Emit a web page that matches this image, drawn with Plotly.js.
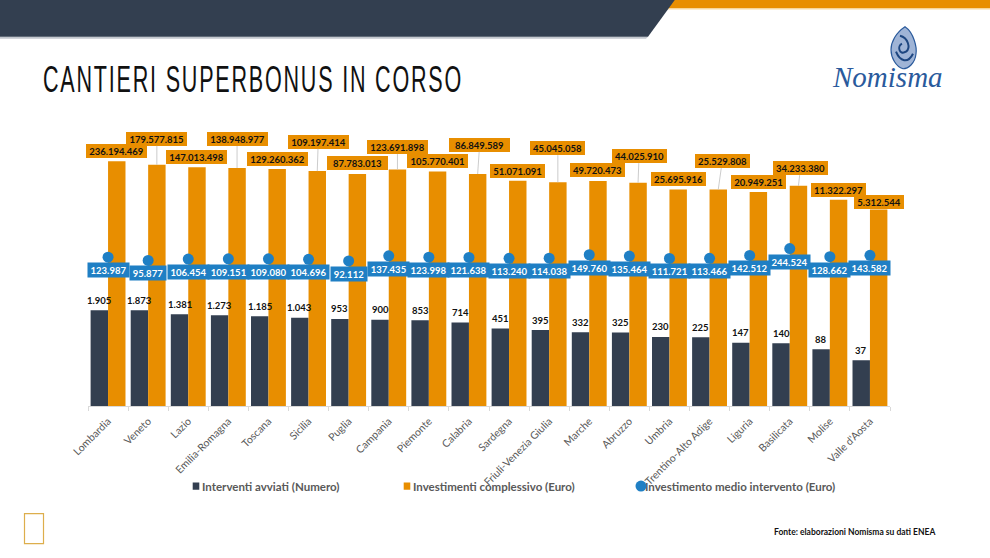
<!DOCTYPE html>
<html><head><meta charset="utf-8">
<script src="https://cdn.plot.ly/plotly-3.0.1.min.js"></script>
<style>html,body{margin:0;padding:0;background:#fff}#c{width:990px;height:558px}</style>
</head><body><div id="c"></div>
<script>
const regioni = ["Lombardia","Veneto","Lazio","Emilia-Romagna","Toscana","Sicilia","Puglia","Campania","Piemonte","Calabria","Sardegna","Friuli-Venezia Giulia","Marche","Abruzzo","Umbria","Trentino-Alto Adige","Liguria","Basilicata","Molise","Valle d'Aosta"];
const interventi = [1905,1873,1381,1273,1185,1043,953,900,853,714,451,395,332,325,230,225,147,140,88,37];
const investimenti = [236194469,179577815,147013498,138948977,129260362,109197414,87783013,123691898,105770401,86849589,51071091,45045058,49720473,44025910,25695916,25529808,20949251,34233380,11322297,5312544];
const medio = [123987,95877,106454,109151,109080,104696,92112,137435,123998,121638,113240,114038,149760,135464,111721,113466,142512,244524,128662,143582];
// pixel offsets of the orange labels from their bar tops
const labelDx = [0,0,0,0,0,1,0,0,0,2,0,0,0,1,0,4,0,2,0,0];
const labelDy = [-10.5,-26,-10.5,-29,-10.4,-29.3,-10.4,-22.4,-10.7,-29.2,-10.2,-34.2,-10.6,-26.5,-10.6,-28.4,-10.5,-17.7,-10.3,-7.3];
const leader = [0,1,0,1,0,1,0,1,0,1,0,1,0,1,0,1,0,1,0,0];

const NAVY="#333F50", ORANGE="#E88E00", BLUE="#1F7FC4", GREY="#595959", LOGO="#2A5A9C";
const FONT="Lato, 'Open Sans', sans-serif";
const it = n => n.toLocaleString("de-DE");
const PW=802, PH=262.8, L=88, T=143.2;
const px = x => (x-L)/PW, py = y => 1-(y-T)/PH;
const off = 0.217;

const barTrace=(name,y,color,leg)=>({type:"bar",name,x:regioni,y,marker:{color},legend:leg,hoverinfo:"x+y"});
const data=[
 barTrace("Interventi avviati (Numero)",interventi,NAVY,"legend"),
 barTrace("Investimenti complessivo (Euro)",investimenti,ORANGE,"legend2"),
 {type:"scatter",mode:"markers",name:"Investimento medio intervento (Euro)",x:regioni,y:medio,marker:{color:BLUE,size:11},legend:"legend3",cliponaxis:false}
];
const annotations=[];
regioni.forEach((r,i)=>{
 annotations.push({xref:"x",yref:"y",x:i+off,y:Math.log10(investimenti[i]),text:it(investimenti[i]),showarrow:true,arrowhead:0,arrowwidth:0.8,standoff:0,
   arrowcolor:leader[i]?"#BFBFBF":"rgba(0,0,0,0)",ax:labelDx[i],ay:labelDy[i],bgcolor:ORANGE,borderpad:2,borderwidth:0,
   width:i<10?57:(i<19?51:46),height:10,font:{family:FONT,size:9.5,color:"#111",weight:700}});
});
regioni.forEach((r,i)=>{
 annotations.push({xref:"x",yref:"y",x:i,y:Math.log10(medio[i]),text:it(medio[i]),showarrow:false,yshift:-13,xanchor:"center",yanchor:"middle",
   bgcolor:BLUE,borderpad:2,width:medio[i]<100000?32:37,height:10,font:{family:FONT,size:9.5,color:"#fff",weight:700}});
 annotations.push({xref:"x",yref:"y",x:i-off,y:Math.log10(interventi[i]),text:it(interventi[i]),showarrow:false,yshift:10,xanchor:"center",yanchor:"middle",
   font:{family:FONT,size:9.5,color:"#111",weight:700}});
});
annotations.push({xref:"paper",yref:"paper",x:px(937),y:py(532),xanchor:"right",yanchor:"middle",showarrow:false,text:"Fonte: elaborazioni Nomisma su dati ENEA",font:{family:FONT,size:8.5,color:"#111",weight:700}});
annotations.push({xref:"paper",yref:"paper",x:px(887),y:py(77),xanchor:"center",yanchor:"middle",showarrow:false,text:"<i>Nomisma</i>",font:{family:"'Liberation Serif',serif",size:29,color:LOGO}});

const pathShape=(pts,o)=>Object.assign({type:"path",xref:"paper",yref:"paper",path:pts},o);
const P=(x,y)=>`${px(x)} ${py(y)}`;
const rect=(x0,y0,x1,y1,o)=>Object.assign({type:"rect",xref:"paper",yref:"paper",x0:px(x0),x1:px(x1),y0:py(y0),y1:py(y1),layer:"below"},o);
const shapes=[
 rect(640,8.5,990,10,{fillcolor:"#FBE6BE",line:{width:0}}),
 rect(640,0,990,8.5,{fillcolor:ORANGE,line:{width:0}}),
 pathShape(`M ${P(0,37)} L ${P(648,37)} L ${P(646,39)} L ${P(0,39)} Z`,{layer:"below",fillcolor:"#C3C7CE",line:{width:0}}),
 pathShape(`M ${P(0,0)} L ${P(675,0)} L ${P(648,37)} L ${P(0,37)} Z`,{layer:"below",fillcolor:NAVY,line:{width:0}}),
 rect(24.5,513.5,43.5,543.5,{fillcolor:"rgba(0,0,0,0)",line:{color:"#DDAE4C",width:1.2}}),
 pathShape(`M ${P(905,27)} C ${P(914,33)} ${P(917,48)} ${P(916,54)} C ${P(915,64)} ${P(908,69)} ${P(903,69)} C ${P(896,67)} ${P(891,58)} ${P(891,50)} C ${P(891,42)} ${P(896,33)} ${P(905,27)} Z`,{fillcolor:"#9FB4D6",line:{color:LOGO,width:1.2}}),
 pathShape(`M ${P(900,36)} C ${P(908,38)} ${P(911,48)} ${P(906,52)} C ${P(899,56)} ${P(897,46)} ${P(902,44)} M ${P(896,52)} C ${P(900,62)} ${P(908,64)} ${P(913,54)}`,{line:{color:"#1D4680",width:2}})
];
const legendCommon={orientation:"h",yanchor:"middle",xanchor:"left",xref:"paper",yref:"paper",bgcolor:"rgba(0,0,0,0)",borderwidth:0,itemclick:false,itemwidth:30,
  font:{family:FONT,size:11.5,color:GREY,weight:700}};
const layout={
 width:990,height:558,autosize:false,paper_bgcolor:"#fff",plot_bgcolor:"#fff",
 margin:{l:L,r:100,t:T,b:152,pad:0},
 barmode:"group",bargap:0.13,bargroupgap:0,
 title:{text:"CANTIERI SUPERBONUS IN CORSO",xref:"container",yref:"container",x:43/990,xanchor:"left",y:1-79/558,yanchor:"middle",pad:{t:0,b:0,l:0,r:0},
   font:{family:"'Liberation Sans Narrow','Liberation Sans',sans-serif",size:36,color:"#111"}},
 xaxis:{type:"category",range:[-0.5,19.5],tickangle:-45,tickson:"boundaries",ticks:"outside",ticklen:4,ticklabelstandoff:4,tickcolor:"#D9D9D9",linecolor:"#D9D9D9",showline:true,showgrid:false,automargin:false,
   tickfont:{family:FONT,size:10.5,color:GREY}},
 yaxis:{type:"log",range:[0,9],visible:false,automargin:false,showgrid:false},
 showlegend:true,
 legend:Object.assign({},legendCommon,{x:px(162),y:py(486)}),
 legend2:Object.assign({},legendCommon,{x:px(373),y:py(486)}),
 legend3:Object.assign({},legendCommon,{x:px(605),y:py(486)}),
 annotations,shapes
};
Plotly.newPlot("c",data,layout,{staticPlot:true,displayModeBar:false}).then(()=>{
 const t=document.querySelector(".gtitle");
 if(t){t.style.letterSpacing="3px";t.setAttribute("textLength","420");t.setAttribute("lengthAdjust","spacingAndGlyphs");}
 // bring the legend keys next to their text and shrink the bar keys, as in the original
 document.querySelectorAll(".infolayer .legendsymbols").forEach(s=>{
   const key=s.querySelector(".legendpoints path");
   if(!key) return;
   const isMarker=key.classList.contains("scatterpts");
   key.setAttribute("transform",isMarker?"translate(36,0)":"translate(34,0) scale(0.55,0.6)");
 });
});
</script></body></html>
